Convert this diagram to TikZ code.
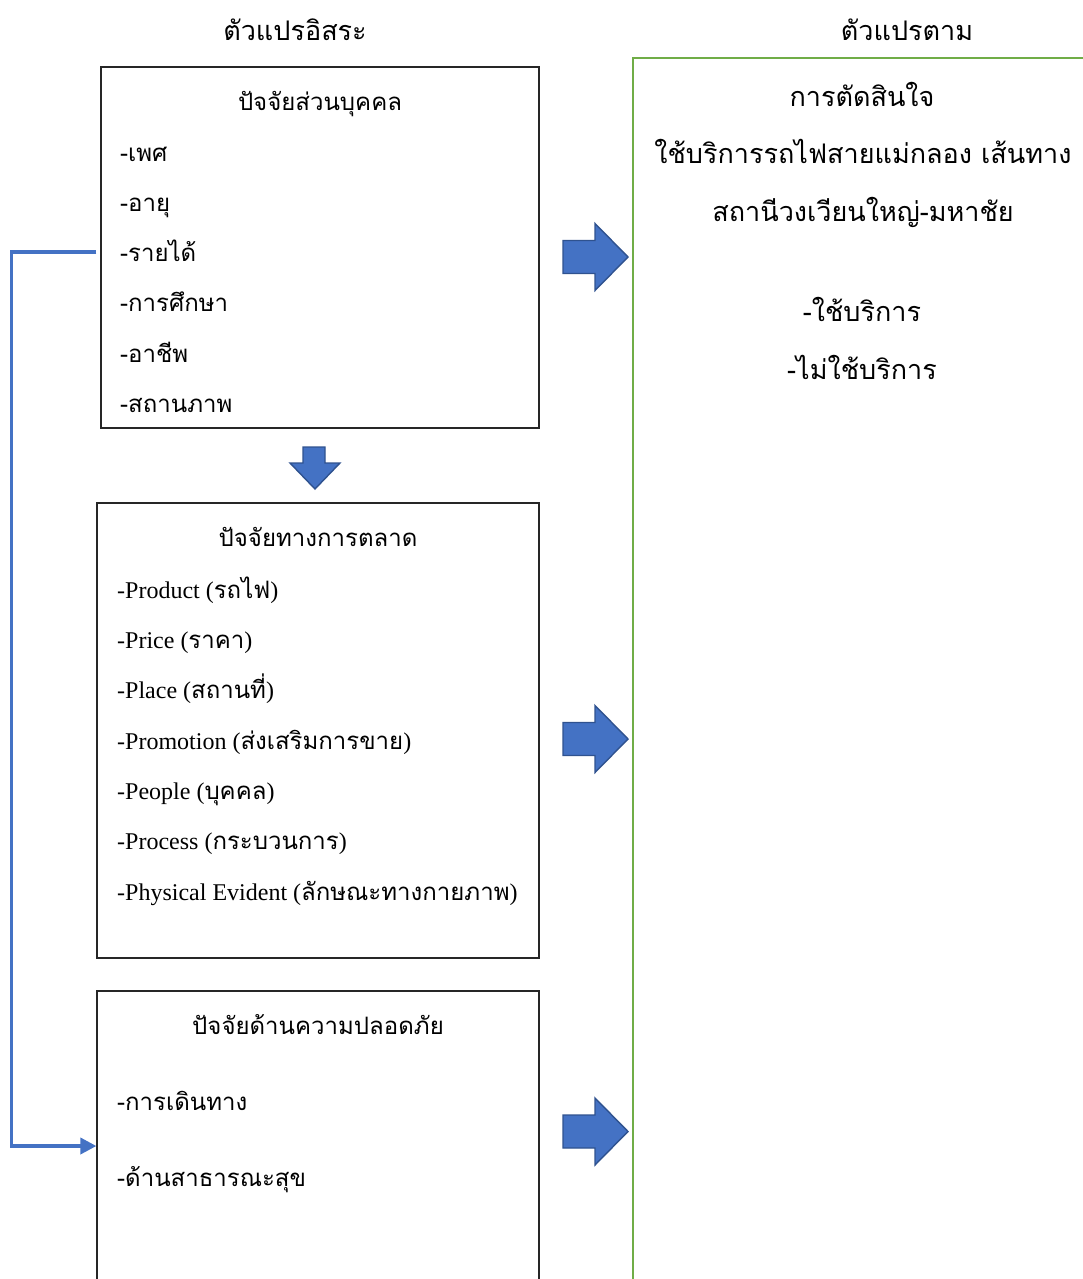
\documentclass[tikz,border=0pt]{standalone}
\usepackage{fontspec}
\setmainfont{Liberation Serif}
\newfontfamily\thai[Script=Thai]{Loma}
\usetikzlibrary{arrows.meta}
\definecolor{barfill}{HTML}{4472C4}
\definecolor{barline}{HTML}{2F528F}
\definecolor{gbox}{HTML}{70AD47}
\begin{document}
\begin{tikzpicture}[x=1pt,y=-1pt,
  font=\fontsize{24}{28}\selectfont,
  big/.style={font=\fontsize{27}{31}\selectfont},
  box/.style={draw=black!85, line width=1.2pt, inner sep=0pt},
  gframe/.style={draw=gbox, line width=2.2pt, inner sep=0pt},
  lbl/.style={inner sep=0pt, anchor=west, text height=17pt, text depth=0pt},
  ttl/.style={inner sep=0pt, anchor=center, text height=17pt, text depth=0pt},
  barrow/.style={fill=barfill, draw=barline, line width=1.4pt, line join=miter},
  conn/.style={draw=barfill, line width=3.6pt}]
\useasboundingbox (0,0) rectangle (1083,1279);
% headings
\node[ttl, big] (h1) at (295,32) {\thai ตัวแปรอิสระ};
\node[ttl, big] (h2) at (907,32) {\thai ตัวแปรตาม};
% boxes
\node[box, minimum width=438pt, minimum height=361pt] (b1) at (320,247.5) {};
\node[box, minimum width=442pt, minimum height=455pt] (b2) at (318,730.5) {};
\node[box, minimum width=442pt, minimum height=310pt] (b3) at (318,1146) {};
\node[gframe, minimum width=477pt, minimum height=1252pt] (g) at (871.5,684) {};
% box 1
\node[ttl] (t1) at (320,102) {\thai ปัจจัยส่วนบุคคล};
\node[lbl] (a1) at (120,153) {\thai -เพศ};
\node[lbl] (a2) at (120,203) {\thai -อายุ};
\node[lbl] (a3) at (120,253) {\thai -รายได้};
\node[lbl] (a4) at (120,303) {\thai -การศึกษา};
\node[lbl] (a5) at (120,354) {\thai -อาชีพ};
\node[lbl] (a6) at (120,404) {\thai -สถานภาพ};
% box 2
\node[ttl] (t2) at (318,538) {\thai ปัจจัยทางการตลาด};
\node[lbl] (m1) at (117,590) {-Product ({\thai รถไฟ})};
\node[lbl] (m2) at (117,640) {-Price ({\thai ราคา})};
\node[lbl] (m3) at (117,690) {-Place ({\thai สถานที่})};
\node[lbl] (m4) at (117,741) {-Promotion ({\thai ส่งเสริมการขาย})};
\node[lbl] (m5) at (117,791) {-People ({\thai บุคคล})};
\node[lbl] (m6) at (117,841) {-Process ({\thai กระบวนการ})};
\node[lbl] (m7) at (117,892) {-Physical Evident ({\thai ลักษณะทางกายภาพ})};
% box 3
\node[ttl] (t3) at (318,1026) {\thai ปัจจัยด้านความปลอดภัย};
\node[lbl] (s1) at (117,1102) {\thai -การเดินทาง};
\node[lbl] (s2) at (117,1178) {\thai -ด้านสาธารณะสุข};
% green box
\node[ttl, big] (d1) at (862,98) {\thai การตัดสินใจ};
\node[ttl, big] (d2) at (863,155) {\thai ใช้บริการรถไฟสายแม่กลอง เส้นทาง};
\node[ttl, big] (d3) at (863,213) {\thai สถานีวงเวียนใหญ่-มหาชัย};
\node[ttl, big] (d4) at (862,313) {\thai -ใช้บริการ};
\node[ttl, big] (d5) at (862,371) {\thai -ไม่ใช้บริการ};
% block arrows
\foreach \cy in {257,739,1131.5}{
  \draw[barrow] (563,\cy-16.5) -- (595,\cy-16.5) -- (595,\cy-33.5) -- (628,\cy)
    -- (595,\cy+33.5) -- (595,\cy+16.5) -- (563,\cy+16.5) -- cycle;
}
\draw[barrow] (303,447) -- (325,447) -- (325,463) -- (340,463) -- (315,489)
  -- (290,463) -- (303,463) -- cycle;
% connector
\draw[conn, -{Triangle[length=16pt,width=16pt]}]
  ([xshift=-4pt,yshift=-4.5pt]b1.west) -- ++(-85,0) |- (b3.west);
\end{tikzpicture}
\end{document}
